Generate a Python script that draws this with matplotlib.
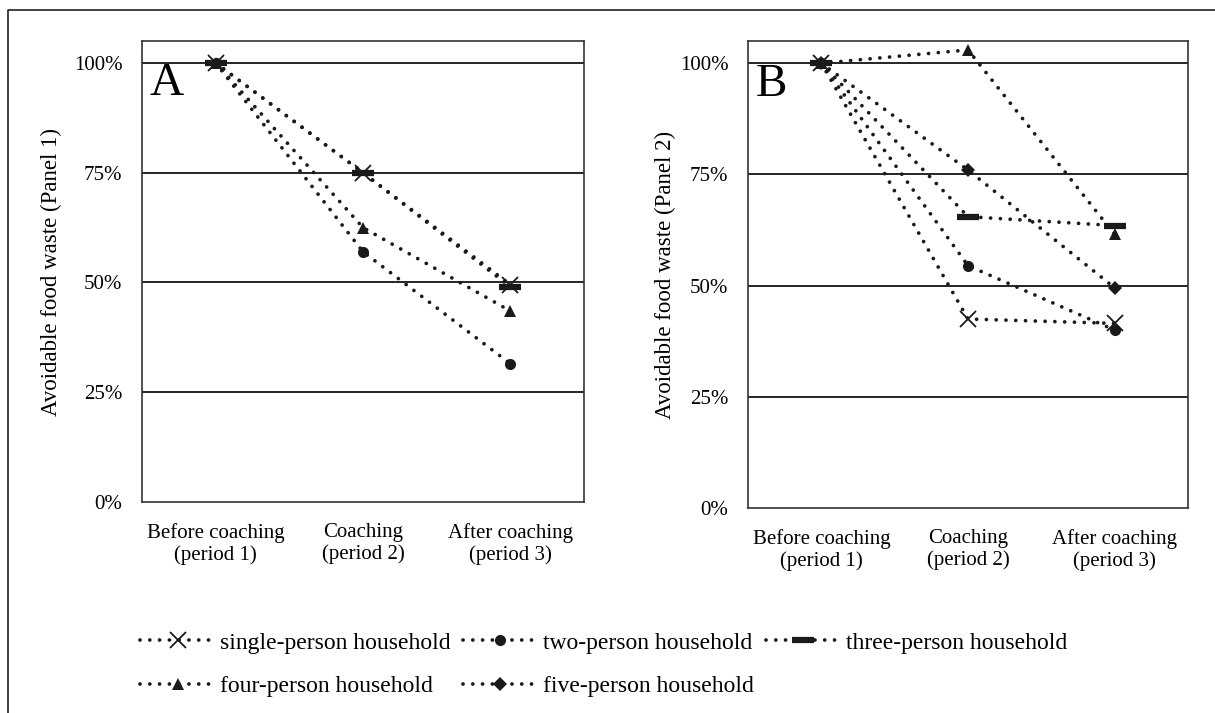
import matplotlib
matplotlib.use('Agg')
import matplotlib.pyplot as plt
from matplotlib.lines import Line2D

plt.rcParams['font.family'] = ['Liberation Serif', 'DejaVu Serif']

# data (percent of period 1 avoidable food waste)
periods = ['Before coaching\n(period 1)', 'Coaching\n(period 2)', 'After coaching\n(period 3)']
households = ['single-person household', 'two-person household', 'three-person household',
              'four-person household', 'five-person household']

panel1_single = [100, 75, 49.5]
panel1_two = [100, 57, 31.5]
panel1_three = [100, 75, 49]
panel1_four = [100, 62.5, 43.5]

panel2_single = [100, 42.5, 41.5]
panel2_two = [100, 54.5, 40]
panel2_three = [100, 65.5, 63.5]
panel2_four = [100, 103, 61.5]
panel2_five = [100, 76, 49.5]

yticks = [0, 25, 50, 75, 100]

COL = '#1a1a1a'
DOTS = (0, (0.01, 2.6))
styles = {
    'single-person household': dict(marker='x', ms=11, mew=1.3),
    'two-person household': dict(marker='o', ms=8, mew=0),
    'three-person household': dict(marker='_', ms=16, mew=4.5),
    'four-person household': dict(marker='^', ms=9, mew=0),
    'five-person household': dict(marker='D', ms=7, mew=0),
}


def draw(ax, series, letter, ylabel, labelx):
    x = range(len(periods))
    for name, vals in series:
        ax.plot(x, vals, color=COL, lw=2.7, linestyle=DOTS, dash_capstyle='round',
                mfc=COL, mec=COL, label=name, **styles[name])
    ax.set_xlim(-0.5, 2.5)
    ax.set_ylim(0, 105)
    ax.set_yticks(yticks)
    ax.set_yticklabels(['%d%%' % v for v in yticks])
    ax.set_xticks(list(x))
    ax.set_xticklabels(periods, linespacing=1.15)
    ax.tick_params(length=0, labelsize=15, colors='black')
    ax.tick_params(axis='y', pad=14)
    ax.tick_params(axis='x', pad=15)
    for v in yticks[1:]:
        ax.axhline(v, color='black', lw=1.2, zorder=0)
    for s in ax.spines.values():
        s.set_color('#333333')
        s.set_linewidth(1.2)
    ax.set_ylabel(ylabel, fontsize=16.5)
    ax.yaxis.set_label_coords(labelx, 0.5)
    ax.text(0.018, 0.883, letter, transform=ax.transAxes, fontsize=34,
            ha='left', va='baseline')


fig = plt.figure(figsize=(12.15, 7.13), dpi=100)

axA = fig.add_axes([142 / 1215, 211 / 713, 442 / 1215, 461 / 713])
draw(axA, [('single-person household', panel1_single),
           ('two-person household', panel1_two),
           ('three-person household', panel1_three),
           ('four-person household', panel1_four)],
     'A', 'Avoidable food waste (Panel 1)', -0.181)

axB = fig.add_axes([748 / 1215, 205 / 713, 440 / 1215, 467 / 713])
draw(axB, [('single-person household', panel2_single),
           ('two-person household', panel2_two),
           ('three-person household', panel2_three),
           ('four-person household', panel2_four),
           ('five-person household', panel2_five)],
     'B', 'Avoidable food waste (Panel 2)', -0.163)

# legend, filled column-wise so reorder to read row by row
order = [0, 3, 1, 4, 2]
handles = [Line2D([], [], color=COL, lw=2.7, linestyle=DOTS, dash_capstyle='round',
                  mfc=COL, mec=COL, **styles[households[i]]) for i in order]
fig.legend(handles, [households[i] for i in order], ncol=3, frameon=False,
           loc='upper left', bbox_to_anchor=(140 / 1215, 1 - 632 / 713),
           borderpad=0, borderaxespad=0, fontsize=17, handlelength=3.2,
           handletextpad=0.2, columnspacing=0.5, labelspacing=0.92)

# outer frame (top and left edges only are visible in the crop)
fig.add_artist(Line2D([8 / 1215, 8 / 1215, 1], [0, 1 - 10 / 713, 1 - 10 / 713],
                      transform=fig.transFigure, color='#222222', lw=1.2))

fig.savefig('out.png', dpi=100)
